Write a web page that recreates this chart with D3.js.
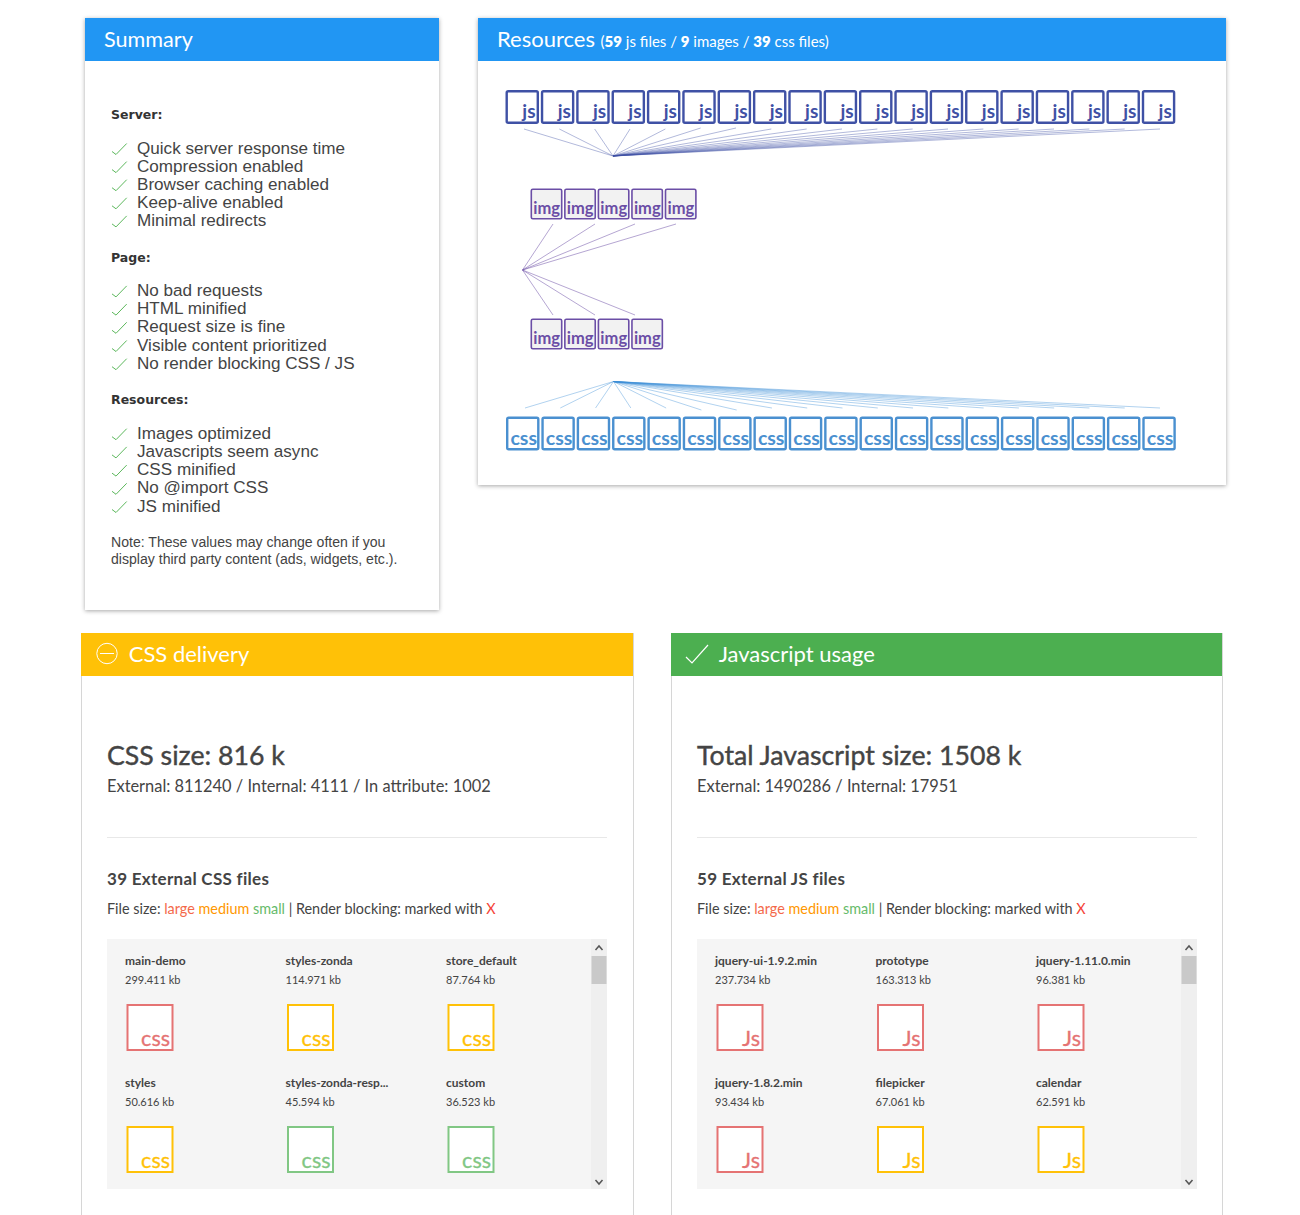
<!DOCTYPE html>
<html>
<head>
<meta charset="utf-8">
<script src="https://cdn.jsdelivr.net/npm/d3@7"></script>
<style>
  html, body { margin: 0; background: #fff; overflow: hidden; }
  svg { display: block; }
  text { font-family: Lato, sans-serif; }
  .card { fill: #fff; }
  .shadow { filter: drop-shadow(0 1px 2px rgba(0,0,0,.35)); }
  .plain { stroke: #d6d6d6; stroke-width: 1; }
</style>
</head>
<body>
<svg id="page" width="1300" height="1215"></svg>
<script>
/* ---------- Data ---------- */
const summaryGroups = ["Server:", "Page:", "Resources:"];
const serverChecks = ["Quick server response time", "Compression enabled", "Browser caching enabled", "Keep-alive enabled", "Minimal redirects"];
const pageChecks = ["No bad requests", "HTML minified", "Request size is fine", "Visible content prioritized", "No render blocking CSS / JS"];
const resourceChecks = ["Images optimized", "Javascripts seem async", "CSS minified", "No @import CSS", "JS minified"];
const noteLines = ["Note: These values may change often if you", "display third party content (ads, widgets, etc.)."];

const jsCount = 59, imageCount = 9, cssCount = 39;
const jsBoxes = ["js","js","js","js","js","js","js","js","js","js","js","js","js","js","js","js","js","js","js"];
const cssBoxes = ["css","css","css","css","css","css","css","css","css","css","css","css","css","css","css","css","css","css","css"];
const imgTopBoxes = ["img","img","img","img","img"];
const imgBottomBoxes = ["img","img","img","img"];

const cssNames = ["main-demo", "styles-zonda", "store_default", "styles", "styles-zonda-resp...", "custom"];
const cssSizes = [299.411, 114.971, 87.764, 50.616, 45.594, 36.523];
const cssLevels = ["large", "medium", "medium", "medium", "small", "small"];
const jsNames = ["jquery-ui-1.9.2.min", "prototype", "jquery-1.11.0.min", "jquery-1.8.2.min", "filepicker", "calendar"];
const jsSizes = [237.734, 163.313, 96.381, 93.434, 67.061, 62.591];
const jsLevels = ["large", "large", "large", "large", "medium", "medium"];

const LEVEL_COLORS = { large: "#e57373", medium: "#ffc107", small: "#81c784" };
const BLUE = "#2196f3", AMBER = "#ffc107", GREEN = "#4caf50", TEXT = "#444";

const svg = d3.select("#page");

/* ---------- Cards ---------- */
function card(x, y, w, h, color, cls) {
  const g = svg.append("g");
  g.append("rect").attr("class", "card " + cls).attr("x", x).attr("y", y).attr("width", w).attr("height", h);
  g.append("rect").attr("x", x).attr("y", y).attr("width", w).attr("height", 43).attr("fill", color);
  return g;
}

const summary = card(85, 18, 354, 592, BLUE, "shadow");
summary.append("text").attr("x", 104).attr("y", 46.5).attr("fill", "#fff").attr("font-size", 21.6).text("Summary");

const resources = card(478, 18, 748, 467, BLUE, "shadow");
const resTitle = resources.append("text").attr("x", 497).attr("y", 46.5).attr("fill", "#fff").attr("font-size", 22).text("Resources ");
const resSub = resTitle.append("tspan").attr("font-size", 15);
[["(", 400], [jsCount, 800], [" js files / ", 400], [imageCount, 800], [" images / ", 400], [cssCount, 800], [" css files)", 400]]
  .forEach(d => resSub.append("tspan").attr("font-weight", d[1]).text(d[0]));

/* ---------- Summary lists ---------- */
const checkColor = "#5cb85c";
function checkMark(g, x, base) {
  g.append("path")
    .attr("d", `M${x},${base - 3} L${x + 4},${base} L${x + 14.7},${base - 11}`)
    .attr("fill", "none").attr("stroke", checkColor).attr("stroke-width", 1);
}
[[serverChecks, 119, 153.5, 18.1], [pageChecks, 262, 295.9, 18.2], [resourceChecks, 404, 438.7, 18.2]].forEach((cfg, gi) => {
  const rowY = d3.scaleLinear().domain([0, 1]).range([cfg[2], cfg[2] + cfg[3]]);
  summary.append("text").attr("x", 111).attr("y", cfg[1])
    .attr("fill", "#333").attr("font-weight", 700).attr("font-size", 12.5)
    .style("font-family", "'DejaVu Sans', sans-serif").text(summaryGroups[gi]);
  cfg[0].forEach((t, i) => {
    const y = rowY(i);
    checkMark(summary, 112, y + 1);
    summary.append("text").attr("x", 137).attr("y", y).attr("fill", TEXT)
      .attr("font-size", 17.1).style("font-family", "'Liberation Sans', sans-serif").text(t);
  });
});
noteLines.forEach((t, i) => {
  summary.append("text").attr("x", 111).attr("y", 547 + i * 17).attr("fill", TEXT).attr("font-size", 14.08)
    .style("font-family", "'Liberation Sans', sans-serif").text(t);
});

/* ---------- Resource waterfall ---------- */
function fileRow(labels, xStart, step, top, size, color, fill, textSize, stroke, inset, drop) {
  const x = d3.scaleLinear().domain([0, 1]).range([xStart, xStart + step]);
  const g = resources.append("g");
  const boxes = g.selectAll("g").data(labels).join("g").attr("transform", (d, i) => `translate(${x(i)},${top})`);
  boxes.append("rect").attr("x", stroke / 2).attr("y", stroke / 2)
    .attr("width", size[0] - stroke).attr("height", size[1] - stroke).attr("rx", 1.5)
    .attr("fill", fill).attr("stroke", color).attr("stroke-width", stroke);
  boxes.append("text").attr("x", size[0] - inset).attr("y", size[1] - drop).attr("text-anchor", "end")
    .attr("fill", color).attr("font-size", textSize).attr("font-weight", 700).text(d => d);
}
function fan(ends, hub, color, opacity) {
  resources.append("g").selectAll("line").data(ends).join("line")
    .attr("x1", d => d[0]).attr("y1", d => d[1]).attr("x2", hub[0]).attr("y2", hub[1])
    .attr("stroke", color).attr("stroke-opacity", opacity).attr("stroke-width", 1);
}

const JS_COLOR = "#3f51a5", IMG_COLOR = "#6b4ea6", CSS_COLOR = "#4a90d0";
const jsEndX = d3.scaleLinear().domain([0, 18]).range([524, 1160]);
const jsEndY = [129, 129, 129, 129, 129, 128, 128, 129, 129, 129, 129, 129, 129, 129, 129, 129, 129, 129, 129];
const cssEndX = d3.scaleLinear().domain([0, 18]).range([525, 1160]);
const cssEndY = [408, 408, 408, 408, 408, 410, 410, 408, 408, 408, 408, 408, 408, 408, 408, 408, 408, 408, 408];
fan(jsBoxes.map((d, i) => [jsEndX(i), jsEndY[i]]), [613, 156], JS_COLOR, 0.4);
fan(cssBoxes.map((d, i) => [cssEndX(i), cssEndY[i]]), [613.5, 381.5], "#3d8fd6", 0.4);
const imgTopEnds = [553, 595, 635, 676], imgBottomEnds = [553, 595, 635];
fan(imgTopEnds.map(x => [x, 224]), [522.5, 270], IMG_COLOR, 0.5);
fan(imgBottomEnds.map(x => [x, 315]), [522.5, 270], IMG_COLOR, 0.5);

fileRow(jsBoxes, 505.5, 35.35, 90, [33.5, 34], JS_COLOR, "#fff", 19, 2.4, 3.5, 6);
fileRow(imgTopBoxes, 530.5, 33.55, 188.5, [32, 31], IMG_COLOR, "#f2f2f2", 16.5, 1.6, 2.5, 5.5);
fileRow(imgBottomBoxes, 530.5, 33.55, 318.5, [32, 31], IMG_COLOR, "#f2f2f2", 16.5, 1.6, 2.5, 5.5);
fileRow(cssBoxes, 506, 35.35, 416.5, [33.5, 34], CSS_COLOR, "#fff", 19.5, 2.4, 2.5, 6);

/* ---------- Delivery panels ---------- */
function panel(x, width, color, title, heading, detail, subhead, names, sizes, levels, ext, headerIcon) {
  const g = svg.append("g");
  g.append("rect").attr("class", "card plain").attr("x", x + 0.5).attr("y", 633.5).attr("width", width).attr("height", 620);
  g.append("rect").attr("x", x).attr("y", 633).attr("width", width).attr("height", 43).attr("fill", color);
  headerIcon(g, x);
  g.append("text").attr("x", x + 47.7).attr("y", 661.5).attr("fill", "#fff").attr("font-size", 22).text(title);

  const left = x + 26;
  g.append("text").attr("x", left).attr("y", 765).attr("fill", TEXT).attr("stroke", TEXT).attr("stroke-width", 0.4)
    .attr("font-size", 26.7).text(heading);
  g.append("text").attr("x", left).attr("y", 792).attr("fill", TEXT).attr("font-size", 16.4).text(detail);
  g.append("line").attr("x1", left).attr("x2", left + 500).attr("y1", 837.5).attr("y2", 837.5).attr("stroke", "#e8e8e8");
  g.append("text").attr("x", left).attr("y", 885).attr("fill", TEXT).attr("font-size", 17).attr("font-weight", 700)
    .attr("letter-spacing", 0.3).text(subhead);

  const legend = g.append("text").attr("x", left).attr("y", 913.5).attr("fill", TEXT).attr("font-size", 14.4);
  legend.append("tspan").text("File size: ");
  legend.append("tspan").attr("fill", "#f4694a").text("large ");
  legend.append("tspan").attr("fill", "#ff9800").text("medium ");
  legend.append("tspan").attr("fill", "#66bb6a").text("small ");
  legend.append("tspan").text("| Render blocking: marked with ");
  legend.append("tspan").attr("fill", "#f44336").text("X");

  // file list with its scrollbar
  g.append("rect").attr("x", left).attr("y", 939).attr("width", 500).attr("height", 250).attr("fill", "#f5f5f5");
  g.append("rect").attr("x", left + 484).attr("y", 939).attr("width", 16).attr("height", 250).attr("fill", "#efefef");
  g.append("rect").attr("x", left + 484.5).attr("y", 956).attr("width", 15).attr("height", 28).attr("fill", "#c9c9c9");
  [[946, 950, 1], [1180, 1184, -1]].forEach(a => {
    const mid = left + 492;
    const tip = a[2] > 0 ? a[0] : a[1];
    const foot = a[2] > 0 ? a[1] : a[0];
    g.append("path").attr("d", `M${mid - 3.5},${foot} L${mid},${tip} L${mid + 3.5},${foot}`)
      .attr("fill", "none").attr("stroke", "#555").attr("stroke-width", 1.5);
  });

  const col = d3.scaleLinear().domain([0, 2]).range([left + 18, left + 339]);
  const row = d3.scaleLinear().domain([0, 1]).range([0, 122]);
  const items = g.selectAll("g.file").data(names).join("g").attr("class", "file")
    .attr("transform", (d, i) => `translate(${col(i % 3)},${row(Math.floor(i / 3))})`);
  items.append("text").attr("y", 965).attr("fill", TEXT).attr("font-size", 12).attr("font-weight", 700).text(d => d);
  items.append("text").attr("y", 984).attr("fill", TEXT).attr("font-size", 11).text((d, i) => sizes[i] + " kb");
  items.append("rect").attr("x", 2.5).attr("y", 1005).attr("width", 45).attr("height", 45)
    .attr("fill", "#fff").attr("stroke", (d, i) => LEVEL_COLORS[levels[i]]).attr("stroke-width", 2);
  items.append("text").attr("x", 45).attr("y", 1046).attr("text-anchor", "end")
    .attr("fill", (d, i) => LEVEL_COLORS[levels[i]]).attr("stroke", (d, i) => LEVEL_COLORS[levels[i]]).attr("stroke-width", 0.3)
    .attr("font-size", 21.5).text(ext);
}

panel(81, 552, AMBER, "CSS delivery", "CSS size: 816 k", "External: 811240 / Internal: 4111 / In attribute: 1002",
  "39 External CSS files", cssNames, cssSizes, cssLevels, "css", (g, x) => {
    g.append("circle").attr("cx", x + 26).attr("cy", 653.5).attr("r", 10.2).attr("fill", "none").attr("stroke", "#fff");
    g.append("line").attr("x1", x + 19).attr("x2", x + 33).attr("y1", 653.5).attr("y2", 653.5).attr("stroke", "#fff");
  });

panel(671, 551, GREEN, "Javascript usage", "Total Javascript size: 1508 k", "External: 1490286 / Internal: 17951",
  "59 External JS files", jsNames, jsSizes, jsLevels, "Js", (g, x) => {
    g.append("path").attr("d", `M${x + 15},${657} L${x + 21},${663} L${x + 37},${645}`)
      .attr("fill", "none").attr("stroke", "#fff").attr("stroke-width", 1.2);
  });
</script>
</body>
</html>
